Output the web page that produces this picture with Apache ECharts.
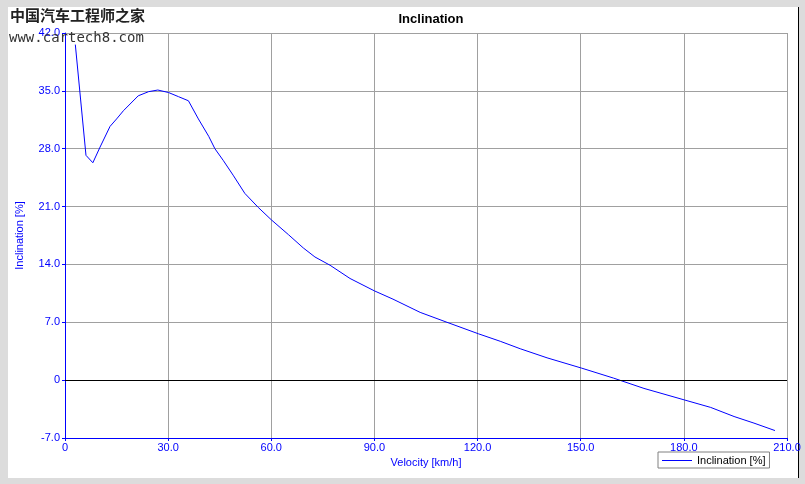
<!DOCTYPE html>
<html>
<head>
<meta charset="utf-8">
<title>Inclination</title>
<script src="https://cdn.jsdelivr.net/npm/echarts@6/dist/echarts.min.js"></script>
<style>
  html, body { margin: 0; padding: 0; }
  body { width: 805px; height: 484px; background: #dcdcdc; position: relative; overflow: hidden; }
  #panel { position: absolute; left: 8px; top: 7px; width: 790px; height: 471px; background: #fff; border-right: 1px solid #000; }
  #chart { position: absolute; left: 0; top: 0; width: 805px; height: 484px; }
</style>
</head>
<body>
<div id="panel"></div>
<div id="chart"></div>
<script>
  // velocity [km/h] and inclination [%]
  const velocity = [3.0, 6.1, 8.1, 10.2, 13.1, 15.0, 17.0, 21.3, 24.3, 27.0, 30.1, 33.0, 35.9, 38.8, 41.8,
    43.6, 46.0, 48.9, 52.3, 56.2, 60.0, 65.0, 69.3, 72.7, 77.1, 82.9, 90.0, 95.4, 103.3, 111.1,
    120.3, 126.6, 132.4, 140.2, 150.3, 159.6, 168.4, 180.2, 187.8, 194.6, 200.4, 206.5]
  const inclination = [40.6, 27.2, 26.3, 28.2, 30.7, 31.6, 32.6, 34.4, 34.9, 35.1, 34.8, 34.3, 33.8, 31.6, 29.5,
    28.0, 26.6, 24.8, 22.6, 20.9, 19.4, 17.6, 16.0, 14.9, 13.9, 12.3, 10.8, 9.8, 8.2, 7.0,
    5.6, 4.7, 3.8, 2.7, 1.45, 0.24, -1.0, -2.4, -3.3, -4.4, -5.2, -6.1]

  const font = 'Liberation Sans, Arial, sans-serif'
  const blue = '#0000ff'
  const fmt = v => v === 0 ? '0' : v.toFixed(1)

  let chart = echarts.init(document.getElementById('chart'), null, { renderer: 'canvas' })
  chart.setOption({
    animation: false,
    backgroundColor: 'transparent',
    textStyle: { fontFamily: font },
    title: {
      text: 'Inclination',
      left: 426,
      top: 8,
      textAlign: 'center',
      textStyle: { fontFamily: font, fontSize: 13, fontWeight: 'bold', color: '#000' }
    },
    grid: { left: 65, right: 18, top: 33, bottom: 46 },
    legend: {
      left: 658,
      top: 452,
      padding: [3, 4, 2, 4],
      borderColor: '#808080',
      borderWidth: 1,
      backgroundColor: '#fff',
      icon: 'rect',
      itemWidth: 30,
      itemHeight: 1,
      itemGap: 5,
      textStyle: { fontFamily: font, fontSize: 11, color: '#000' },
      data: ['Inclination [%]']
    },
    xAxis: {
      type: 'value',
      min: 0,
      max: 210,
      interval: 30,
      name: 'Velocity [km/h]',
      nameLocation: 'middle',
      nameGap: 18,
      nameTextStyle: { color: blue, fontSize: 11, fontFamily: font },
      axisLine: { onZero: false, lineStyle: { color: blue, width: 1 } },
      axisTick: { show: true, length: 3, lineStyle: { color: blue } },
      axisLabel: { color: blue, fontSize: 11, margin: 4, formatter: fmt },
      splitLine: { show: true, lineStyle: { color: '#a0a0a0', width: 1 } }
    },
    yAxis: {
      type: 'value',
      min: -7,
      max: 42,
      interval: 7,
      name: 'Inclination [%]',
      nameLocation: 'middle',
      nameGap: 40,
      nameTextStyle: { color: blue, fontSize: 11, fontFamily: font },
      axisLine: { show: true, lineStyle: { color: blue, width: 1 } },
      axisTick: { show: true, length: 3, lineStyle: { color: blue } },
      axisLabel: { color: blue, fontSize: 11, margin: 5, formatter: fmt },
      splitLine: { show: true, lineStyle: { color: '#a0a0a0', width: 1 } }
    },
    graphic: [
      {
        type: 'text', left: 10, top: 8, z: 100,
        style: { text: '中国汽车工程师之家', font: 'bold 15px "Noto Sans CJK SC"', fill: '#222' }
      },
      {
        type: 'text', left: 9, top: 31, z: 100,
        style: { text: 'www.cartech8.com', font: '14px "DejaVu Sans Mono"', fill: '#333' }
      }
    ],
    series: [{
      name: 'Inclination [%]',
      type: 'line',
      data: velocity.map((v, i) => [v, inclination[i]]),
      showSymbol: false,
      symbol: 'none',
      lineStyle: { color: blue, width: 1 },
      itemStyle: { color: blue },
      markLine: {
        silent: true,
        symbol: 'none',
        label: { show: false },
        lineStyle: { color: '#000', width: 1, type: 'solid' },
        data: [{ yAxis: 0 }]
      }
    }]
  })
</script>
</body>
</html>
